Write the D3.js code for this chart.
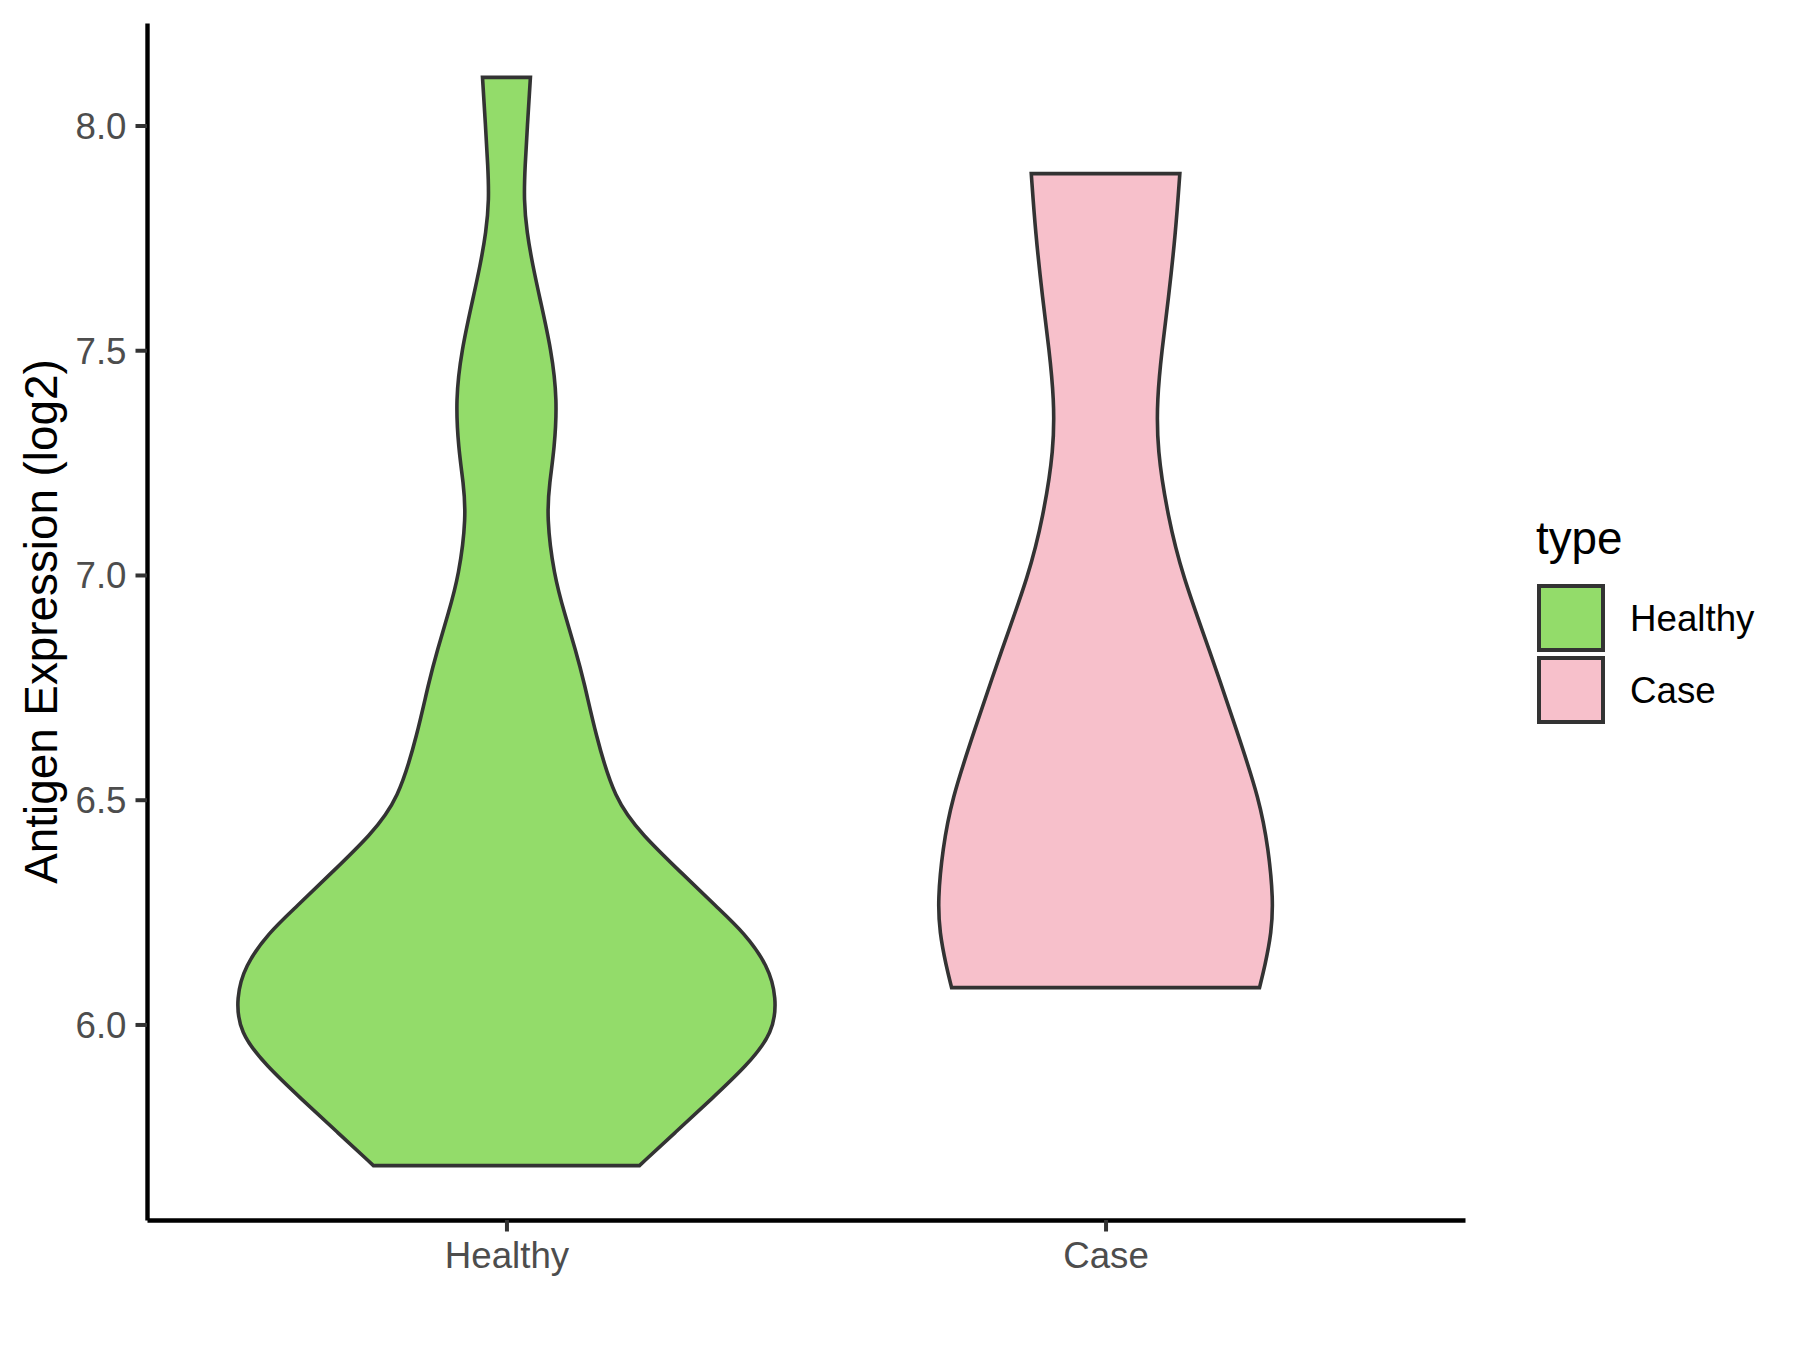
<!DOCTYPE html>
<html>
<head>
<meta charset="utf-8">
<script src="https://cdn.jsdelivr.net/npm/d3@7"></script>
<style>
body{margin:0;background:#fff;}
text{font-family:"Liberation Sans",Arial,sans-serif;}
</style>
</head>
<body>
<script>
let groups = ["Healthy", "Case"];
let fills = ["#93DC6A", "#F7C0CB"];
let yTicks = [6.0, 6.5, 7.0, 7.5, 8.0];

// violin outline: expression value and half width (category units)
let healthyValues = [8.107, 8.0, 7.91, 7.835, 7.762, 7.688, 7.614, 7.5, 7.39, 7.28, 7.206, 7.13, 7.0, 6.91, 6.835, 6.76, 6.65, 6.5, 6.42, 6.34, 6.26, 6.204, 6.13, 6.06, 5.982, 5.908, 5.834, 5.76, 5.686];
let healthyWidths = [0.040, 0.035, 0.031, 0.029, 0.034, 0.044, 0.056, 0.075, 0.085, 0.080, 0.072, 0.067, 0.079, 0.098, 0.115, 0.130, 0.148, 0.180, 0.228, 0.290, 0.352, 0.397, 0.437, 0.451, 0.446, 0.401, 0.342, 0.282, 0.222];
let caseValues = [7.893, 7.762, 7.614, 7.5, 7.392, 7.28, 7.13, 7.0, 6.835, 6.65, 6.5, 6.39, 6.278, 6.204, 6.13, 6.082];
let caseWidths = [0.124, 0.117, 0.105, 0.094, 0.086, 0.086, 0.104, 0.128, 0.173, 0.220, 0.257, 0.272, 0.280, 0.277, 0.266, 0.257];

let W = 1800, H = 1350;
let pLeft = 147, pRight = 1465, pTop = 23, pBottom = 1220;

let violins = [
    {name: groups[0], fill: fills[0], pts: d3.zip(healthyValues, healthyWidths)},
    {name: groups[1], fill: fills[1], pts: d3.zip(caseValues, caseWidths)}
];

let svg = d3.select("body").append("svg")
    .attr("width", W)
    .attr("height", H);

// ggplot style 5% expansion of the data range
let lo = d3.min(healthyValues.concat(caseValues)),
    hi = d3.max(healthyValues.concat(caseValues));
let pad = (hi - lo) * 0.05;
let y = d3.scaleLinear().domain([lo - pad, hi + pad]).range([pBottom, pTop]);
let x = d3.scalePoint().domain(groups).range([pLeft, pRight]).padding(0.6);
let step = x.step();

let area = d3.area()
    .curve(d3.curveBasis)
    .y(function (d) {return y(d[0]);});

svg.selectAll(".violin")
    .data(violins)
    .enter().append("path")
    .attr("class", "violin")
    .attr("d", function (v) {
        let cx = x(v.name);
        return area
            .x0(function (d) {return cx - d[1] * step;})
            .x1(function (d) {return cx + d[1] * step;})(v.pts);
    })
    .attr("fill", function (v) {return v.fill;})
    .attr("stroke", "#333333")
    .attr("stroke-width", 3.6)
    .attr("stroke-linejoin", "miter");

// axes
let yAxis = svg.append("g")
    .attr("transform", "translate(" + pLeft + ",0)")
    .call(d3.axisLeft(y).tickValues(yTicks).tickFormat(d3.format(".1f"))
        .tickSize(11.5).tickSizeOuter(0).tickPadding(9));
let xAxis = svg.append("g")
    .attr("transform", "translate(0," + pBottom + ")")
    .call(d3.axisBottom(x).tickSize(11.5).tickSizeOuter(0).tickPadding(9));

[yAxis, xAxis].forEach(function (g) {
    g.select(".domain").attr("stroke", "#000").attr("stroke-width", 4.4);
    g.selectAll(".tick line").attr("stroke", "#333333").attr("stroke-width", 4);
    g.selectAll(".tick text")
        .attr("fill", "#4D4D4D")
        .style("font-size", "36.7px");
});
yAxis.selectAll(".tick text").attr("dy", "0.35em");
xAxis.selectAll(".tick text").attr("dy", "0.76em");

// y title
svg.append("text")
    .attr("transform", "translate(57," + ((pTop + pBottom) / 2) + ") rotate(-90)")
    .attr("text-anchor", "middle")
    .style("font-size", "45.8px")
    .attr("fill", "#000")
    .text("Antigen Expression (log2)");

// legend
let legend = svg.append("g").attr("transform", "translate(1536,0)");
legend.append("text")
    .attr("x", 0)
    .attr("y", 554)
    .style("font-size", "45.8px")
    .text("type");
let items = legend.selectAll(".item")
    .data(violins)
    .enter().append("g")
    .attr("class", "item")
    .attr("transform", function (d, i) {return "translate(0," + (586 + i * 72) + ")";});
items.append("rect")
    .attr("x", 3)
    .attr("y", 0)
    .attr("width", 64)
    .attr("height", 64)
    .attr("fill", function (d) {return d.fill;})
    .attr("stroke", "#333333")
    .attr("stroke-width", 4);
items.append("text")
    .attr("x", 94)
    .attr("y", 32)
    .attr("dy", "0.35em")
    .style("font-size", "36.7px")
    .attr("fill", "#000")
    .text(function (d) {return d.name;});
</script>
</body>
</html>
